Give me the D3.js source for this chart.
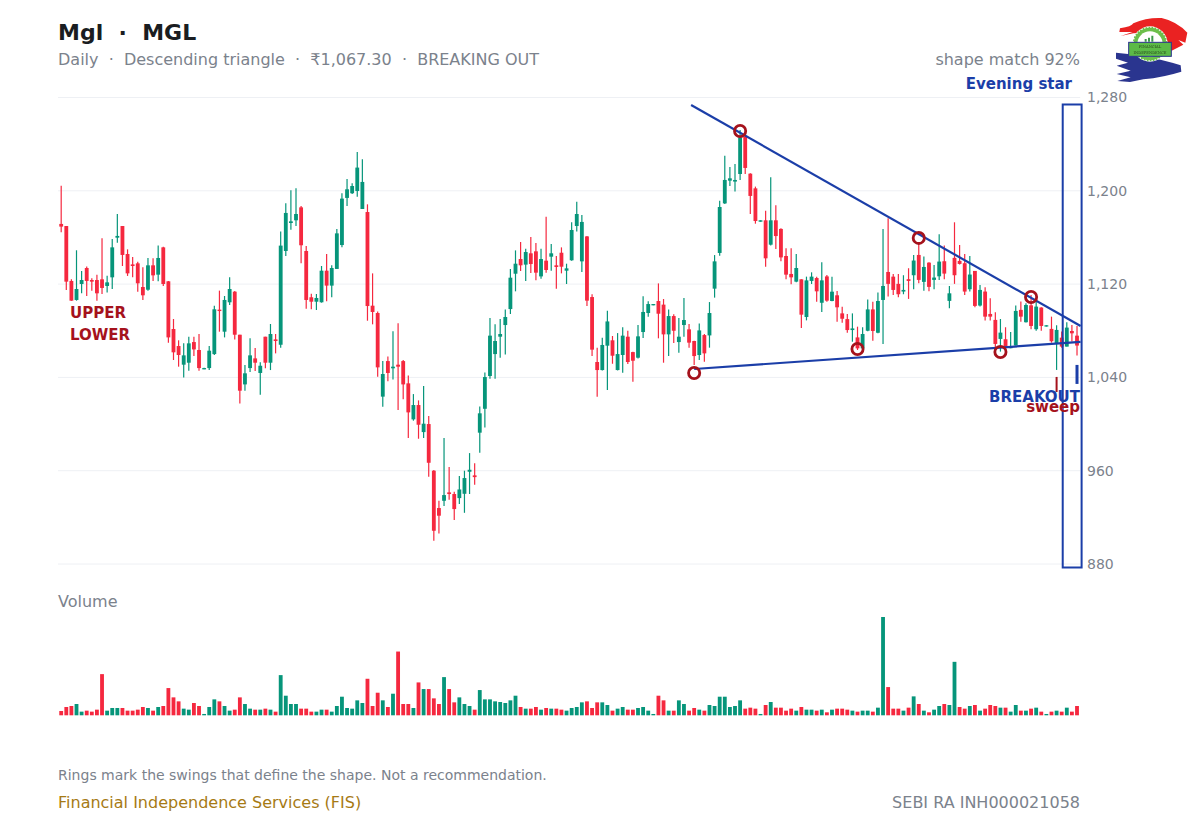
<!DOCTYPE html>
<html><head><meta charset="utf-8">
<script src="https://cdn.jsdelivr.net/npm/d3@7/dist/d3.min.js"></script>
<style>html,body{margin:0;background:#fff}svg{display:block}text{font-family:"DejaVu Sans",sans-serif;white-space:pre}</style>
</head><body><svg id="c" width="1200" height="825"></svg>
<script>
const opens=[1171.6,1169.8,1122.7,1106.4,1120.1,1133.8,1123.5,1123.5,1124.1,1118.4,1125.8,1159.8,1169.8,1145.8,1136.9,1137.8,1117.5,1115.2,1136.1,1128.1,1151.5,1122.4,1081.5,1066.9,1050.9,1052.6,1070.3,1063.5,1046.9,1048,1060,1098.1,1079.2,1104.4,1113.5,1076.6,1034,1048,1056.3,1043.8,1074.9,1052.6,1072.6,1068,1148.4,1172.4,1174.7,1185.8,1148.4,1108.7,1104.9,1104.4,1131.5,1118.7,1133,1153.5,1193.9,1197.9,1199.8,1184.4,1181.8,1101.5,1095.2,1023.5,1054,1047.8,1050.9,1054,
1034.9,1004,1016.3,993.1,1000,960,928,934.2,941.4,940,936.5,940.2,959.1,956,992.6,1013.1,1041.2,1060,1074.9,1084.9,1098.6,1128.9,1141.5,1136.7,1146.4,1148.1,1126.6,1140.1,1143.5,1136.1,1146.9,1131.5,1140.4,1169.8,1139.5,1160.9,1108.9,1053.2,1046.3,1067.2,1071.8,1046.3,1059.2,1074.9,1061.7,1056.9,1078.9,1095.2,1101.8,1105.5,1102.4,1076.9,1092.6,1070.3,1084.9,1081.2,1071.2,1059.2,1076.3,1076,1116.1,1146.7,
1189.2,1208.7,1207.9,1214.4,1246.5,1214.7,1202.1,1173.5,1174.7,1153.8,1174.7,1167.3,1144.1,1128.7,1122.1,1124.1,1091.8,1122.7,1125.2,1104,1126.6,1105.5,1110.4,1094.9,1090,1080.6,1074.3,1064.9,1080,1098.3,1078.3,
1106.4,1130.4,1126.4,1120.2,1113.6,1124.2,1127.6,1145,1121.9,1138.4,1123.6,1126.7,1139.6,1105.6,1142.5,1139.9,1137.9,1115.6,1131.3,1101.6,1113.6,1094.4,1089.3,1073,1072.7,1065,1067.3,1097.9,1087.3,1101.8,1081.3,1099.9,1083.6,1081.6,1068.7,1074.1,1066.4,1079.8,1075.8];
const highs=[1204.4,1169.8,1124.1,1149,1131.2,1135,1125,1128.1,1159.3,1127.2,1158.7,1180.1,1169.8,1149.8,1143.2,1139.2,1134.4,1142.4,1142.1,1153,1152.1,1122.7,1090.1,1071.8,1069.2,1074.9,1074.9,1077.2,1048.3,1066.9,1101.5,1114.4,1109.8,1125.8,1114.1,1076.6,1050.6,1073.5,1065.2,1052.9,1074.9,1085.8,1077.2,1165,1189.3,1200.4,1202.1,1187,1152.7,1111.8,1111.5,1135.5,1145.8,1136.1,1167.3,1197.9,1210.1,1206.4,1233.3,1227,1188.4,1129.2,1096.6,1054,1058,1079.5,1086.4,1054.9,
1041.7,1025.7,1020.3,1032.6,1006.9,960.5,934.2,988,963.1,942,955.4,960,975.1,966.3,1015.1,1044.3,1090.9,1085.5,1090,1098.3,1132.9,1148.9,1156.1,1150.4,1160.4,1155.2,1150.4,1177.8,1154.4,1144.1,1151.5,1137.5,1173,1190.7,1179.3,1161.2,1111.2,1065.5,1074,1097.2,1075.5,1078,1082.9,1080,1062,1084.9,1109.5,1105.2,1102.9,1120.6,1107.2,1098.3,1094.1,1090.9,1108.1,1085.8,1071.5,1086.3,1077.2,1104.6,1144.9,1191.5,
1230.1,1220.4,1223,1252.2,1247.9,1215,1203.6,1174.7,1183,1211.6,1187.6,1167.8,1150.7,1150.7,1145.8,1124.1,1126.4,1130.1,1126.4,1138.7,1127.8,1126.4,1114.1,1100.6,1094.4,1094.9,1083.5,1082.9,1106.9,1104.9,1112.9,
1167.3,1176.5,1128.7,1128.7,1127.6,1133.6,1145,1155,1143.6,1138.7,1136.4,1162.8,1153,1118.4,1173,1153.6,1145.9,1144.2,1131.3,1119.3,1117.3,1107.9,1095.8,1090.1,1083,1079,1101.6,1105,1103.6,1110.7,1105,1100.1,1084.7,1092.1,1084.7,1079.3,1087.3,1085,1084.1];
const lows=[1164.4,1114.9,1105.8,1105.8,1112.1,1109.8,1114.4,1105.8,1111.5,1112.7,1115.8,1155.5,1135.5,1127,1125.8,1113.5,1106.4,1114.4,1122.7,1122.4,1118.4,1069.8,1054.9,1049.2,1040,1045.8,1058.3,1045.8,1046.9,1046.3,1059.2,1079.2,1074.3,1102.1,1072.6,1017.7,1028.6,1044.6,1045.5,1025.2,1047.8,1046.3,1060.6,1065.5,1144.1,1166.7,1169.8,1137.8,1098.9,1098.4,1097.8,1104.1,1105.2,1108.7,1133,1151.5,1187,1197.3,1195,1184.4,1088.6,1085.5,1040.6,1014.9,1036.6,1038.3,1012,1021.2,
988,1002.9,987.4,988,954.8,899.9,906.2,929.7,935.1,917.7,931.4,923.9,940,948,975.4,997.1,1038.9,1038.9,1056.9,1059.7,1094.3,1113.8,1131.2,1122.6,1129.5,1123.2,1124.6,1129.8,1131.5,1116.1,1129.2,1120.1,1140.1,1165.2,1130.4,1101.2,1058.3,1023.4,1046,1029.2,1051.7,1046,1044,1051.5,1036.3,1056.3,1073.8,1092,1101.8,1073.5,1052.6,1058.3,1069.5,1061.2,1074.9,1065.5,1050.6,1054.9,1053.5,1065.5,1108.4,1144.4,
1188.7,1204.1,1199.3,1209.3,1214.4,1180.1,1171.8,1173.5,1134.9,1153,1150.1,1139.5,1124.1,1119.8,1121.5,1082.3,1088.9,1120.1,1104.9,1096,1104.9,1105.2,1087.8,1086.9,1078.3,1070.6,1063.5,1063.5,1079.5,1071.5,1077.8,
1068.7,1109.3,1110.7,1108.7,1111.3,1107.3,1115.6,1120.7,1114.4,1113.9,1115.6,1123.6,1124.2,1099.3,1120.2,1136.7,1110.7,1113.6,1100.1,1100.7,1088.7,1088.7,1060.7,1062.1,1065.8,1065,1067.3,1087.8,1087,1081.3,1080.1,1080.1,1083.6,1069.8,1046.4,1065.5,1066.4,1070.7,1058.7];
const closes=[1169.3,1122.1,1105.8,1115.8,1123.5,1122.7,1122.1,1112.1,1116.7,1121.5,1151.5,1161.3,1145,1129.2,1135.5,1120.7,1110.4,1136.1,1127.5,1142.4,1120.1,1074.3,1061.5,1059.2,1058.9,1069.2,1064,1048,1048,1062.9,1098.4,1096.9,1106.4,1115.8,1076.6,1028.6,1043.5,1058.9,1052.6,1050,1052.6,1077.2,1071.2,1153,1181,1173.8,1180.1,1153.3,1106.4,1104.9,1108.1,1131.5,1118.7,1133.8,1163.5,1193.3,1201.3,1204.1,1219.9,1207.6,1101.2,1096.1,1048.6,1042.9,1043.8,1049.2,1049.2,1034,
1010,1016.3,999.4,1000.3,966.8,908.5,921.4,939.1,940,927.1,943.9,953.7,960.8,954.5,1009.2,1040.3,1075.8,1071.2,1077.2,1091.8,1125.5,1137.5,1136.1,1147.5,1137.2,1129.8,1141.5,1132.1,1146.4,1134.7,1134.9,1133.5,1166.4,1180.1,1173.3,1105.8,1063.8,1046.3,1067.8,1088,1058.6,1060,1075.8,1053.2,1054.3,1075.2,1096.1,1102.9,1102.9,1094.6,1076.9,1092.6,1080,1074.9,1089.2,1069.8,1058.3,1080.3,1060.6,1095.2,1139.5,1186.1,
1209.3,1210.7,1209.3,1245.9,1219.6,1195.6,1174.1,1174.7,1142.1,1174.7,1161.2,1142.9,1128.1,1125.8,1133.8,1093.8,1123.2,1126.4,1113.8,1123.2,1105.8,1113.5,1100.1,1090.3,1080.6,1082,1064.9,1077.2,1098.3,1079.8,1105.5,
1118.4,1120.2,1115,1111.3,1115,1122.7,1140.2,1123.6,1134.7,1117.6,1125.6,1139.3,1129,1112.1,1127.6,1137.3,1113.6,1128.2,1101.3,1115,1092.1,1092.1,1068.7,1078.4,1066.4,1066.4,1097,1092.1,1102.1,1084.1,1100.7,1084.1,1084.7,1071,1080.7,1066.4,1082.7,1077.8,1067.3];
const volumes=[13,25,28,34,11,14,11,17,124,14,22,22,22,14,14,17,25,22,14,25,28,82,54,42,20,17,37,28,4,25,48,42,28,14,17,54,34,20,17,17,20,17,11,121,59,34,34,20,20,11,11,17,17,11,28,56,22,20,45,37,110,28,68,45,25,65,192,
34,34,22,99,79,79,51,34,115,79,39,54,34,28,17,76,48,48,42,40,37,45,59,25,20,20,25,17,22,20,20,17,14,22,25,39,42,22,39,39,31,14,20,25,17,17,22,25,14,4,59,45,14,14,45,34,14,22,17,14,31,28,56,56,25,28,45,20,
23,20,4,31,40,23,23,14,20,14,25,17,17,14,17,9,17,20,20,17,14,11,14,14,11,23,296,85,20,20,14,23,57,34,14,9,17,28,34,31,161,25,20,28,31,14,20,31,28,23,23,11,31,14,14,20,23,11,4,11,14,11,23,11,28];
const volumeUpOverrides=[175];
const priceTicks=[1280,1200,1120,1040,960,880];
const upperTrendIndex=[123.4,199.7], upperTrendPrice=[1273.6,1084.1];
const lowerTrendIndex=[124,199.7], lowerTrendPrice=[1047.2,1070.4];
const ringIndex=[124,133,156,168,184,190];
const ringPrice=[1043.8,1251.3,1064.4,1159.6,1061.8,1109];
const starIndex=[196.2,199.9], starPrice=[1274,877];
const sweepIndex=195, sweepPrice=[1040.4,1027.5];
const breakoutIndex=199, breakoutPrice=[1050.7,1034.4];

const GREEN="#06957a",RED="#f5283f",BLUE="#1b3ea8",DARKRED="#a5121c",GREY="#7b828c",GRID="#eef0f4";
const svg=d3.select("#c");
const n=opens.length;
const L=58,R=1080.2;
const x=d3.scaleBand().domain(d3.range(n)).range([L,R]).padding(0.25);
const cx=i=>x(0)+x.bandwidth()/2+i*x.step();
const y=d3.scaleLinear().domain([880,1280]).range([564,97.5]);
const vy=d3.scaleLinear().domain([0,d3.max(volumes)]).range([715.3,617]);

// grid + axis
const axis=d3.axisRight(y).tickValues(priceTicks).tickSize(0).tickPadding(7).tickFormat(d3.format(","));
const ag=svg.append("g").attr("transform",`translate(${R-0.2},0)`).call(axis);
ag.select(".domain").remove();
ag.selectAll("text").attr("fill",GREY).style("font-size","14px").style("font-family",'"DejaVu Sans"');
svg.append("g").selectAll("line").data(priceTicks).join("line")
 .attr("x1",L).attr("x2",R).attr("y1",d=>y(d)).attr("y2",d=>y(d)).attr("stroke",GRID).attr("stroke-width",1);

// candles
const idx=d3.range(n);
const col=i=>closes[i]>=opens[i]?GREEN:RED;
const cg=svg.append("g");
cg.selectAll("line").data(idx).join("line")
 .attr("x1",cx).attr("x2",cx).attr("y1",i=>y(highs[i])).attr("y2",i=>y(lows[i]))
 .attr("stroke",col).attr("stroke-width",1.2);
cg.selectAll("rect").data(idx).join("rect")
 .attr("x",i=>x(i)).attr("width",x.bandwidth())
 .attr("y",i=>y(Math.max(opens[i],closes[i])))
 .attr("height",i=>Math.max(1.2,Math.abs(y(opens[i])-y(closes[i]))))
 .attr("fill",col);

// volume
svg.append("g").selectAll("rect").data(idx).join("rect")
 .attr("x",i=>x(i)).attr("width",x.bandwidth())
 .attr("y",i=>vy(volumes[i])).attr("height",i=>vy(0)-vy(volumes[i]))
 .attr("fill",i=>volumeUpOverrides.includes(i)?GREEN:col(i));

// pattern overlay
const ln=d3.line().x(d=>cx(d[0])).y(d=>y(d[1]));
svg.append("path").attr("d",ln(d3.zip(upperTrendIndex,upperTrendPrice))).attr("fill","none").attr("stroke",BLUE).attr("stroke-width",2.2);
svg.append("path").attr("d",ln(d3.zip(lowerTrendIndex,lowerTrendPrice))).attr("fill","none").attr("stroke",BLUE).attr("stroke-width",2.2);
svg.append("g").selectAll("circle").data(ringIndex).join("circle")
 .attr("cx",cx).attr("cy",(d,i)=>y(ringPrice[i])).attr("r",5.6)
 .attr("fill","none").attr("stroke",DARKRED).attr("stroke-width",2.8);
svg.append("rect").attr("x",cx(starIndex[0])).attr("width",cx(starIndex[1])-cx(starIndex[0]))
 .attr("y",y(starPrice[0])).attr("height",y(starPrice[1])-y(starPrice[0]))
 .attr("fill","none").attr("stroke",BLUE).attr("stroke-width",2);
svg.append("line").attr("x1",cx(sweepIndex)).attr("x2",cx(sweepIndex)).attr("y1",y(sweepPrice[0])).attr("y2",y(sweepPrice[1])).attr("stroke",DARKRED).attr("stroke-width",2);
svg.append("line").attr("x1",cx(breakoutIndex)).attr("x2",cx(breakoutIndex)).attr("y1",y(breakoutPrice[0])).attr("y2",y(breakoutPrice[1])).attr("stroke",BLUE).attr("stroke-width",3);

// text
function T(s,xp,yp,size,fill,opt={}){
 return svg.append("text").attr("x",xp).attr("y",yp).attr("fill",fill).attr("text-anchor",opt.a||"start")
  .attr("font-weight",opt.b?"bold":"normal").style("font-size",size+"px").text(s);
}
T("Mgl  ·  MGL",58,40,22,"#1a1d21",{b:1});
T("Daily  ·  Descending triangle  ·  ₹1,067.30  ·  BREAKING OUT",58,65,16,GREY);
T("shape match 92%",1080,65,16,GREY,{a:"end"});
T("Evening star",1072,89,15,BLUE,{a:"end",b:1});
T("UPPER",70,318,15,DARKRED,{b:1});
T("LOWER",70,340,15,DARKRED,{b:1});
T("BREAKOUT",1080,402,15,BLUE,{a:"end",b:1});
T("sweep",1080,412,15,DARKRED,{a:"end",b:1});
T("Volume",58,607,16,GREY);
T("Rings mark the swings that define the shape. Not a recommendation.",58,780,14,GREY);
T("Financial Independence Services (FIS)",58,808,16,"#a67a14");
T("SEBI RA INH000021058",1080,808,16,GREY,{a:"end"});

// logo (decorative badge, softened like the small raster in the reference)
const defs=svg.append("defs");
defs.append("filter").attr("id","soft").append("feGaussianBlur").attr("stdDeviation",1.4);
const lg=svg.append("g").attr("transform","translate(1100,10) scale(0.3333)").attr("filter","url(#soft)");
lg.append("path").attr("fill","#ea2220").attr("d","M60 55 Q95 50 100 40 Q140 22 185 24 Q230 34 262 68 L256 98 L235 90 L250 104 L215 122 L200 100 L150 68 L100 70 L62 78 L98 66 L58 66 Z");
lg.append("path").attr("fill","#2c348f").attr("d","M48 128 L120 136 Q190 150 242 166 L244 185 Q190 202 130 208 L90 216 L52 213 L92 202 L50 192 L92 182 L50 167 L84 158 L48 146 Z");
lg.append("circle").attr("cx",150).attr("cy",102).attr("r",53).attr("fill","#fff");
lg.append("circle").attr("cx",150).attr("cy",102).attr("r",49).attr("fill","#6cbf4b").attr("stroke","#6cbf4b").attr("stroke-width",6).attr("stroke-dasharray","5 4");
lg.append("circle").attr("cx",150).attr("cy",102).attr("r",38).attr("fill","#fff");
lg.append("path").attr("fill","#3c9a4a").attr("d","M134 95 h6 v-8 h-6z M144 95 h6 v-12 h-6z M154 95 h6 v-18 h-6z");
lg.append("rect").attr("x",86).attr("y",97).attr("width",128).attr("height",42).attr("fill","#5cba47").attr("stroke","#2c348f").attr("stroke-width",3);
lg.append("text").attr("x",150).attr("y",115).attr("text-anchor","middle").attr("fill","#24401c").style("font-size","11px").style("font-family",'"DejaVu Serif"').text("FINANCIAL");
lg.append("text").attr("x",150).attr("y",131).attr("text-anchor","middle").attr("fill","#24401c").style("font-size","11px").style("font-family",'"DejaVu Serif"').text("INDEPENDENCE");
</script></body></html>
